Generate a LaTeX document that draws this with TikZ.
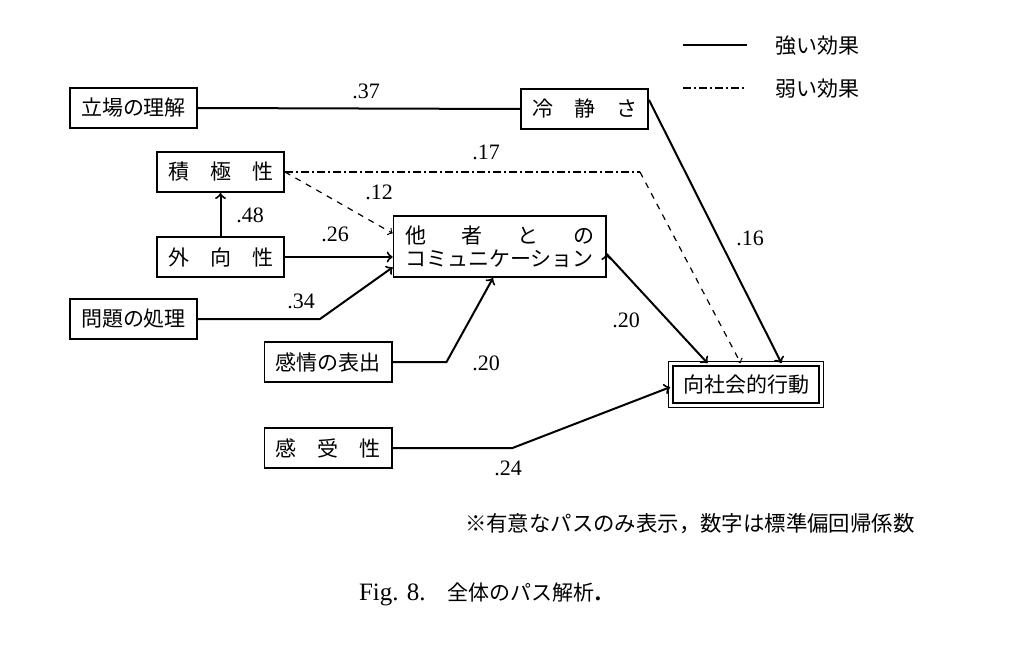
\documentclass[tikz,border=0pt]{standalone}
\usepackage{fontspec}
\setmainfont{Liberation Serif}
\newfontfamily\jp{Noto Sans CJK JP}
\tikzset{
>=to, % open arrow heads as in the scan
factor/.style={draw, line width=0.8pt, minimum width=63.7pt, minimum height=20.2pt, inner sep=0pt, font=\jp\fontsize{10.5}{11.5}\selectfont}, % one box per variable
wide/.style={factor, minimum width=106.2pt, minimum height=30.7pt, align=center}, % the two-line box
outcome/.style={factor, double, double distance=1.6pt, line width=0.6pt, minimum width=75.2pt, minimum height=20.7pt}, % the double framed target
coef/.style={font=\fontsize{11}{13}\selectfont}, % path coefficients
strong/.style={->, line width=1pt}, % strong effect
weak/.style={->, line width=0.6pt, dashed}, % weak effect
weakdot/.style={line width=0.6pt, dash pattern=on 4pt off 1.5pt on 1pt off 1.5pt}, % weak effect, dash dot part
jptext/.style={font=\jp\fontsize{10.5}{12}\selectfont},
}
\begin{document}
\begin{tikzpicture}[x=0.5pt, y=-0.5pt]
    \useasboundingbox (0,0) rectangle (1024,664);
    \node[factor] (tachiba) at (133.5,108) {立場の理解};
    \node[factor] (reisei) at (584.5,109) {冷\hspace{1em}静\hspace{1em}さ};
    \node[factor] (sekkyoku) at (220.5,172) {積\hspace{1em}極\hspace{1em}性};
    \node[factor] (gaikou) at (220.5,257) {外\hspace{1em}向\hspace{1em}性};
    \node[factor] (mondai) at (133.5,319) {問題の処理};
    \node[factor] (kanjou) at (328,362) {感情の表出};
    \node[factor] (kanju) at (328,448) {感\hspace{1em}受\hspace{1em}性};
    \node[wide] (comm) at (499.7,246.5) {\makebox[9em][s]{他\hfill 者\hfill と\hfill の}\\コミュニケーション};
    \node[outcome] (pro) at (746,384.5) {向社会的行動};

    % coefficients
    \node[coef] (c37) at (366,91) {.37};
    \node[coef] (c17) at (486,152) {.17};
    \node[coef] (c12) at (379,192) {.12};
    \node[coef] (c48) at (250,215) {.48};
    \node[coef] (c26) at (335,234) {.26};
    \node[coef] (c34) at (301,301) {.34};
    \node[coef] (c20a) at (626,320) {.20};
    \node[coef] (c20b) at (486,363) {.20};
    \node[coef] (c16) at (750,238) {.16};
    \node[coef] (c24) at (508,468) {.24};

    % legend
    \coordinate (strongA) at (683,45);
    \coordinate (strongB) at (747,45);
    \coordinate (weakA) at (683,88);
    \coordinate (weakB) at (747,88);
    \node[jptext, anchor=west] (strongtext) at (768,46) {強い効果};
    \node[jptext, anchor=west] (weaktext) at (768,89) {弱い効果};
    \draw[line width=1pt] (strongA) -- (strongB);
    \draw[weakdot] (weakA) -- (weakB);

    \draw[strong, -] (tachiba.east) -- (reisei.west);
    \draw[strong]
    (gaikou) edge (sekkyoku)
    (gaikou.east) edge (gaikou.east -| comm.west)
    (reisei.8) edge (pro.31)
    (comm.356) edge (pro.151);
    \draw[strong] (mondai.east) -- ++(122,0) -- (comm.191);
    \draw[strong] (kanjou.east) -- ++(54,0) -- (comm.258);
    \draw[strong] (kanju.east) -- ++(120,0) -- (pro.182);
    \draw[weak] (sekkyoku.east) -- (comm.173);
    \draw[weakdot] (sekkyoku.east) -- ++(355,0) coordinate (turn);
    \draw[weak] (turn) -- (pro.104);

    \node[jptext, anchor=west, font=\jp\fontsize{10.7}{12}\selectfont] (note) at (458,524) {※有意なパスのみ表示，数字は標準偏回帰係数};
    \node[anchor=west, font=\fontsize{12.5}{14}\selectfont] (caption) at (352,594) {Fig. 8.\hspace{11pt}{\jp\fontsize{10.5}{12}\selectfont 全体のパス解析}\textbf{.}};
  \end{tikzpicture}
\end{document}
